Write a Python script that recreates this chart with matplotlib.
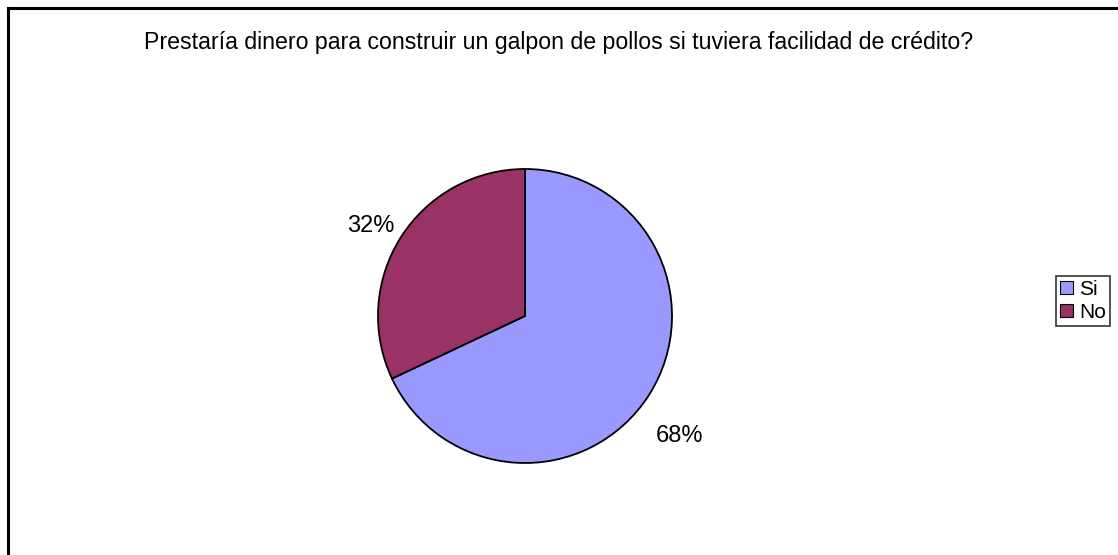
import numpy as np
import matplotlib.pyplot as plt
from matplotlib.lines import Line2D

plt.rcParams['font.family'] = ['Liberation Sans', 'DejaVu Sans']

labels = ["Si", "No"]
values = [68, 32]
colors = ["#9999FF", "#993366"]
title = "Prestaría dinero para construir un galpon de pollos si tuviera facilidad de crédito?"

W, H = 1118, 555
fig = plt.figure(figsize=(W / 100, H / 100), dpi=100)

# pie axes: centre (525, 316) px, radius 147 px
cx, cy, r = 525, 316, 147
ax = fig.add_axes([(cx - r) / W, (H - cy - r) / H, 2 * r / W, 2 * r / H])
wedges, _ = ax.pie(values, colors=colors, startangle=90, counterclock=False,
                   wedgeprops=dict(edgecolor='black', linewidth=1.3))
ax.set_xlim(-1, 1)
ax.set_ylim(-1, 1)
ax.set_aspect('equal')

# percentage labels, anchored at each wedge's mid-angle on the rim (Excel-like offsets)
offsets = [(22, -30), (-22, 8)]
for w, v, off in zip(wedges, values, offsets):
    ang = np.deg2rad((w.theta1 + w.theta2) / 2)
    ax.annotate(f"{v}%", xy=(np.cos(ang), np.sin(ang)), xytext=off, textcoords='offset points',
                ha='center', va='center', fontsize=17)

fig.text(559 / W, 1 - 42 / H, title, ha='center', va='center', fontsize=16.7)

# chart border (only top and left visible, rest is cut off)
fig.add_artist(Line2D([8 / W, 1.0], [1 - 8 / H] * 2, color='black', lw=2.2))
fig.add_artist(Line2D([8 / W] * 2, [0.0, 1 - 8 / H], color='black', lw=2.2))

handles = [plt.Rectangle((0, 0), 1, 1, facecolor=c, edgecolor='black', lw=0.8) for c in colors]
leg = fig.legend(handles, labels, loc='center', bbox_to_anchor=(1083 / W, 1 - 301 / H),
                 fontsize=15, frameon=True, fancybox=False, handlelength=0.6, handleheight=0.6,
                 handletextpad=0.3, borderpad=0.2, labelspacing=0.2, borderaxespad=0)
leg.get_frame().set_edgecolor('black')
leg.get_frame().set_linewidth(1.2)

fig.savefig("out.png", dpi=100)
